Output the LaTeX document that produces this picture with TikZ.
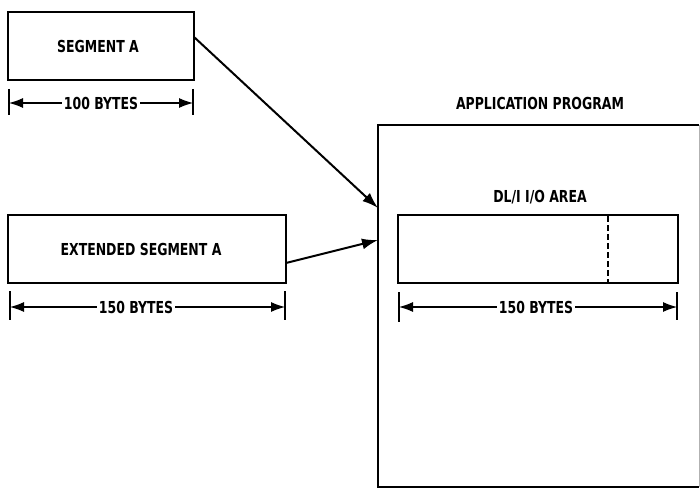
\documentclass[tikz,border=0pt]{standalone}
\usepackage{fontspec}
\setmainfont{DejaVu Sans Condensed}
\newfontfamily\lblfont{DejaVu Sans Condensed}[FakeStretch=0.84]
\usetikzlibrary{arrows.meta}
\tikzset{
  box/.style={draw, line width=2.4pt, inner sep=0pt},
  lbl/.style={font=\lblfont\bfseries\fontsize{16.5}{18}\selectfont, inner sep=2pt},
  conn/.style={line width=2pt, -{Latex[length=16pt,width=11pt]}},
  dimhl/.style={line width=1.1pt, {Latex[length=14pt,width=10pt]}-},
  dimhr/.style={line width=1.1pt, -{Latex[length=14pt,width=10pt]}},
  tick/.style={line width=2.4pt},
}
\begin{document}
\begin{tikzpicture}[x=1pt,y=-1pt]
\useasboundingbox (0,0) rectangle (700,489);
% Segment A
\node[box, minimum width=186pt, minimum height=68pt] (sa) at (101,46) {};
\node[lbl] (satxt) at (98,46) {SEGMENT A};
\coordinate (sal) at (9,103); \coordinate (sar) at (193,103);
\draw[tick] (9,89) -- (9,115) (193,89) -- (193,115);
\node[lbl, fill=white] (sadim) at (101,103) {100 BYTES};
\draw[dimhl] (sal) -- (sadim.west);
\draw[dimhr] (sadim.east) -- (sar);
% Extended Segment A
\node[box, minimum width=278pt, minimum height=68pt] (esa) at (147,249) {};
\node[lbl] (esatxt) at (141,249) {EXTENDED SEGMENT A};
\coordinate (esal) at (10,307); \coordinate (esar) at (285,307);
\draw[tick] (10,291) -- (10,320) (285,291) -- (285,320);
\node[lbl, fill=white] (esadim) at (136,307) {150 BYTES};
\draw[dimhl] (esal) -- (esadim.west);
\draw[dimhr] (esadim.east) -- (esar);
% Application program
\node[lbl] (aptxt) at (540,103) {APPLICATION PROGRAM};
\draw[line width=2.4pt] (699,125) -- (378,125) -- (378,487) -- (699,487);
\draw[line width=0.6pt, gray!60] (699,125) -- (699,487);
\coordinate (apl1) at (378,208);
\coordinate (apl2) at (378,240);
\node[lbl] (iotxt) at (540,197) {DL/I I/O AREA};
\node[box, minimum width=280pt, minimum height=68pt] (io) at (538,249) {};
\draw[line width=2.4pt, dash pattern=on 6pt off 3pt] (608,216) -- (608,283);
\coordinate (iol) at (399,307); \coordinate (ior) at (677,307);
\draw[tick] (399,292) -- (399,322) (677,292) -- (677,320);
\node[lbl, fill=white] (iodim) at (536,307) {150 BYTES};
\draw[dimhl] (iol) -- (iodim.west);
\draw[dimhr] (iodim.east) -- (ior);
% connectors
\draw[conn] (194,37) -- (apl1);
\draw[conn] (286,263) -- (apl2);
\end{tikzpicture}
\end{document}
